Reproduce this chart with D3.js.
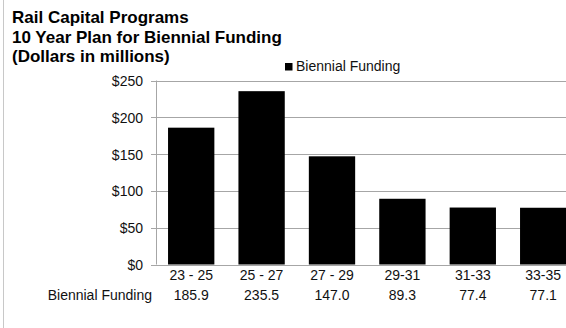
<!DOCTYPE html>
<html>
<head>
<meta charset="utf-8">
<script src="https://cdn.jsdelivr.net/npm/d3@7"></script>
<style>
  html, body { margin: 0; padding: 0; background: #fff; }
  svg { display: block; font-family: "Liberation Sans", Arial, sans-serif; }
</style>
</head>
<body>
<svg id="chart" width="566" height="328"></svg>
<script>
// Biennial periods and funding (millions of dollars)
const categories = ["23 - 25", "25 - 27", "27 - 29", "29-31", "31-33", "33-35"];
const funding = [185.9, 235.5, 147.0, 89.3, 77.4, 77.1];
const yTicks = [0, 50, 100, 150, 200, 250];
const titleLines = ["Rail Capital Programs", "10 Year Plan for Biennial Funding", "(Dollars in millions)"];
const seriesName = "Biennial Funding";

const svg = d3.select("#chart");
const W = 566, H = 328;

// frame edge on the left
svg.append("line")
  .attr("x1", 3.5).attr("x2", 3.5).attr("y1", 0).attr("y2", H)
  .attr("stroke", "#c8c8c8").attr("stroke-width", 1);

// plot area
const plotLeft = 156, step = 70.4;
const x = d3.scaleBand()
  .domain(categories)
  .range([plotLeft, plotLeft + step * categories.length])
  .paddingInner(0.342)
  .paddingOuter(0.171);

const y = d3.scaleLinear().domain([0, 250]).range([264.5, 80.5]);

// horizontal gridlines with ticks through the axis
const grid = svg.append("g");
grid.selectAll("line")
  .data(yTicks)
  .join("line")
  .attr("x1", plotLeft - 5).attr("x2", W)
  .attr("y1", d => Math.round(y(d)) + 0.5)
  .attr("y2", d => Math.round(y(d)) + 0.5)
  .attr("stroke", "#a6a6a6").attr("stroke-width", 1);

// y axis line
svg.append("line")
  .attr("x1", plotLeft + 0.5).attr("x2", plotLeft + 0.5)
  .attr("y1", y(250)).attr("y2", y(0))
  .attr("stroke", "#a6a6a6").attr("stroke-width", 1);

// bars
svg.append("g").selectAll("rect")
  .data(categories.map((c, i) => ({ c, v: funding[i] })))
  .join("rect")
  .attr("x", d => x(d.c))
  .attr("y", d => y(d.v))
  .attr("width", x.bandwidth())
  .attr("height", d => y(0) - y(d.v))
  .attr("fill", "#000");

// y tick labels
const yAxis = d3.axisLeft(y).tickValues(yTicks).tickSize(0).tickPadding(0)
  .tickFormat(d => "$" + d);
const yg = svg.append("g").attr("transform", `translate(${plotLeft - 13},0)`).call(yAxis);
yg.select(".domain").remove();
yg.selectAll("text")
  .attr("font-size", 14).attr("font-family", "Liberation Sans, Arial, sans-serif")
  .attr("fill", "#111").attr("dy", "0.36em");

// category labels
svg.append("g").selectAll("text")
  .data(categories)
  .join("text")
  .attr("x", d => x(d) + x.bandwidth() / 2)
  .attr("y", 280)
  .attr("text-anchor", "middle")
  .attr("font-size", 14).attr("fill", "#111")
  .text(d => d);

// data table row
svg.append("text")
  .attr("x", plotLeft - 4).attr("y", 300)
  .attr("text-anchor", "end")
  .attr("font-size", 14).attr("fill", "#111")
  .text(seriesName);
svg.append("g").selectAll("text")
  .data(categories.map((c, i) => ({ c, v: funding[i] })))
  .join("text")
  .attr("x", d => x(d.c) + x.bandwidth() / 2)
  .attr("y", 300)
  .attr("text-anchor", "middle")
  .attr("font-size", 14).attr("fill", "#111")
  .text(d => d3.format(".1f")(d.v));

// title
svg.append("g").selectAll("text")
  .data(titleLines)
  .join("text")
  .attr("x", 12)
  .attr("y", (d, i) => 23 + i * 19.5)
  .attr("font-size", 17).attr("font-weight", "bold").attr("fill", "#000")
  .text(d => d);

// legend
const lg = svg.append("g").attr("transform", "translate(285,63)");
lg.append("rect").attr("width", 7.5).attr("height", 7.5).attr("fill", "#000");
lg.append("text").attr("x", 11).attr("y", 7.5)
  .attr("font-size", 14).attr("fill", "#111").text(seriesName);
</script>
</body>
</html>
